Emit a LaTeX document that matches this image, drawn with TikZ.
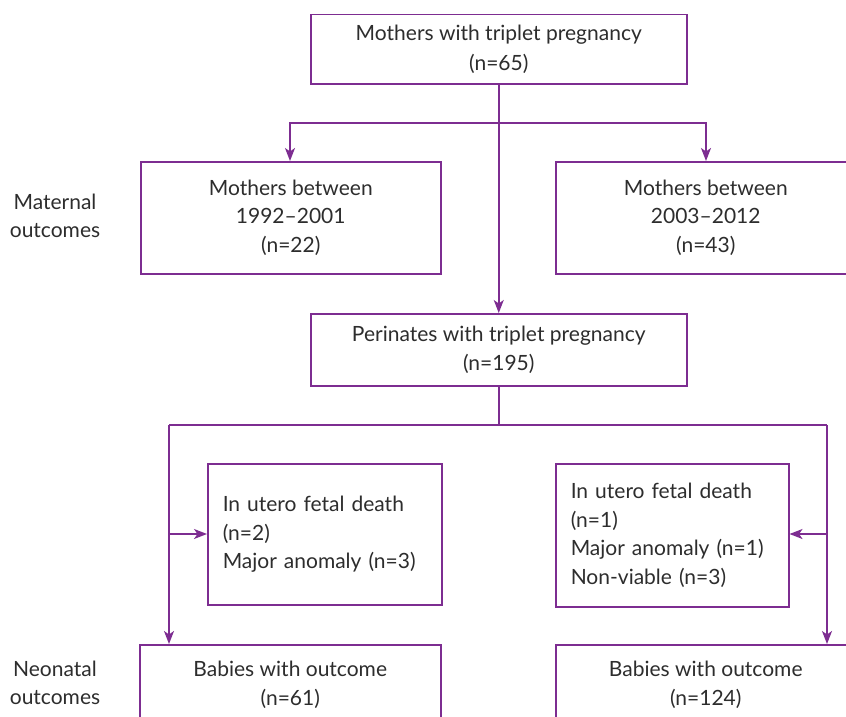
\documentclass[tikz,border=0pt]{standalone}
\usepackage{fontspec}
\setmainfont{Lato}
\usetikzlibrary{arrows.meta}
\definecolor{linepurple}{RGB}{125,45,145}
\definecolor{txt}{RGB}{45,45,45}
\tikzset{
  box/.style={draw=linepurple, line width=1.5pt, anchor=north west, inner sep=0pt, text=txt, font=\fontsize{21}{28.5}\selectfont},
  lbl/.style={text=txt, font=\fontsize{21}{28.5}\selectfont, align=center, inner sep=0pt},
  conn/.style={draw=linepurple, line width=1.5pt},
  arr/.style={conn, -{Stealth[length=13pt,width=10pt,inset=3.5pt]}}
}
\begin{document}
\begin{tikzpicture}[x=1pt,y=-1pt]
\clip (0,0) rectangle (846,717);
\fill[white] (0,0) rectangle (846,717);
% boxes
\node[box, minimum width=376pt, minimum height=69pt, align=center, font=\fontsize{21}{30}\selectfont] (top) at (310,14) {Mothers with triplet pregnancy\\(n=65)};
\node[box, minimum width=300pt, minimum height=112pt, align=center] (ml) at (140,161) {Mothers between\\1992--2001\\(n=22)};
\node[box, minimum width=300pt, minimum height=112pt, align=center] (mr) at (555,161) {Mothers between\\2003--2012\\(n=43)};
\node[box, minimum width=376pt, minimum height=72pt, align=center] (per) at (310,313) {Perinates with triplet pregnancy\\(n=195)};
\node[box, minimum width=234pt, minimum height=141pt, align=left, text width=204pt, inner xsep=15pt] (exl) at (207,463) {In utero fetal death\\(n=2)\\Major anomaly (n=3)};
\node[box, minimum width=233pt, minimum height=143pt, align=left, text width=203pt, inner xsep=15pt] (exr) at (555,463) {In utero fetal death\\(n=1)\\Major anomaly (n=1)\\Non-viable (n=3)};
\node[box, minimum width=301pt, minimum height=80pt, align=center] (bl) at (139,644) {Babies with outcome\\(n=61)};
\node[box, minimum width=300pt, minimum height=80pt, align=center] (br) at (555,644) {Babies with outcome\\(n=124)};
% side labels
\node[lbl] (mat) at (55,216) {Maternal\\outcomes};
\node[lbl] (neo) at (55,683) {Neonatal\\outcomes};
% connectors
\coordinate (j1) at (top.south |- 0,123);
\coordinate (j2) at (per.south |- 0,425);
\coordinate (ll) at (169,425);
\coordinate (rr) at (827,425);
\coordinate (lm) at (169,534);
\coordinate (rm) at (827,534);
\draw[arr] (top.south) -- (per.north);
\draw[arr] (j1) -| (ml.north -| 290,0);
\draw[arr] (j1) -| (mr.north -| 706,0);
\draw[conn] (per.south) -- (j2);
\draw[arr] (ll) -- (bl.north -| ll);
\draw[conn] (ll) -- (rr);
\draw[arr] (rr) -- (br.north -| rr);
\draw[arr] (lm) -- (exl.west |- lm);
\draw[arr] (rm) -- (exr.east |- rm);
\end{tikzpicture}
\end{document}
